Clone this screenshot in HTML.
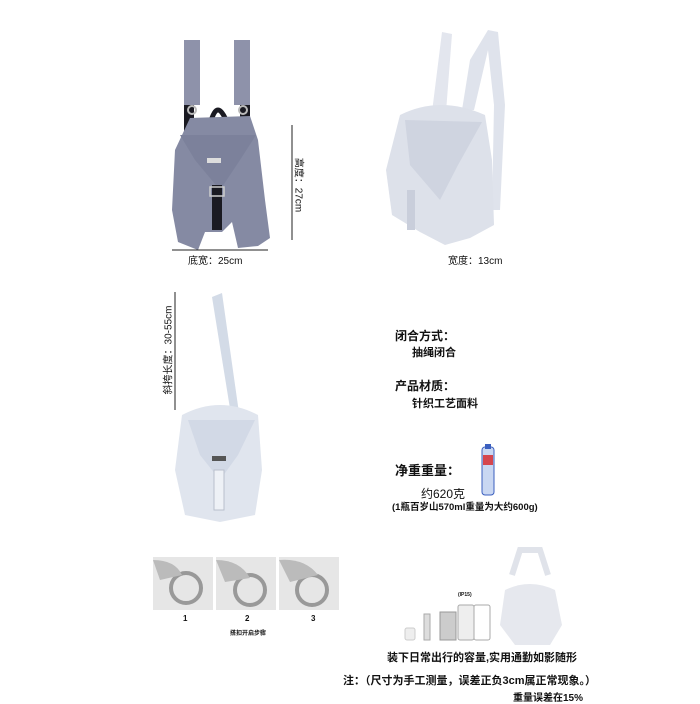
<!DOCTYPE html>
<html><head><meta charset="utf-8"><style>
body{margin:0;background:#fff;width:700px;height:700px;overflow:hidden;position:relative;font-family:"Liberation Sans","Noto Sans CJK SC",sans-serif;color:#111}
.t{position:absolute;white-space:nowrap;font-weight:bold}
</style></head><body>
<svg width="700" height="700" style="position:absolute;left:0;top:0">
<rect x="184" y="40" width="16" height="65" fill="#8e92aa"/>
<rect x="234" y="40" width="16" height="65" fill="#8e92aa"/>
<rect x="184" y="105" width="10" height="40" fill="#1a1a22"/>
<rect x="240" y="105" width="10" height="40" fill="#1a1a22"/>
<path d="M210 125 Q217 95 228 125" stroke="#1a1a22" stroke-width="5" fill="none"/>
<circle cx="192" cy="110" r="4" fill="none" stroke="#bbb" stroke-width="2"/>
<circle cx="243" cy="110" r="4" fill="none" stroke="#bbb" stroke-width="2"/>
<path d="M190 118 L250 116 L258 140 L265 200 L270 238 L258 246 L238 248 L232 222 L222 232 L205 232 L198 250 L178 242 L172 210 L175 150 Z" fill="#858aa3"/>
<path d="M180 135 L256 135 L240 160 L220 190 L195 160 Z" fill="#7c819b"/>
<rect x="212" y="185" width="10" height="45" fill="#1a1a22"/>
<rect x="210" y="187" width="14" height="9" fill="none" stroke="#ccc" stroke-width="1.5"/>
<rect x="207" y="158" width="14" height="5" fill="#ddd"/>
<line x1="292" y1="125" x2="292" y2="240" stroke="#222" stroke-width="1"/>
<line x1="172" y1="250" x2="268" y2="250" stroke="#222" stroke-width="1"/>
<path d="M432 112 L442 32 L452 34 L446 112 Z" fill="#e3e6ee"/>
<path d="M462 110 L470 60 L488 30 L498 32 L505 105 L500 210 L492 210 L494 105 L488 50 L474 110 Z" fill="#dfe3ec"/>
<path d="M400 115 Q440 95 485 115 L492 160 L494 225 L470 238 L445 245 L420 232 L392 215 L386 170 Z" fill="#dde1ea"/>
<path d="M405 120 L482 122 L458 165 L440 200 L410 165 Z" fill="#cfd4e0"/>
<rect x="407" y="190" width="8" height="40" fill="#c9cedb"/>
<path d="M212 297 L222 293 L240 420 L232 421 Z" fill="#d3dbe7"/>
<path d="M182 415 Q220 395 258 415 L262 470 L255 515 L220 522 L185 515 L175 470 Z" fill="#e0e5ee"/>
<path d="M188 420 L255 420 L238 455 L220 480 L200 455 Z" fill="#d2d9e6"/>
<rect x="214" y="470" width="10" height="40" fill="#eef1f6" stroke="#b9c0cc" stroke-width="1"/>
<rect x="212" y="456" width="14" height="5" fill="#555"/>
<line x1="175" y1="292" x2="175" y2="410" stroke="#222" stroke-width="1"/>
<g>
<rect x="153" y="557" width="60" height="53" fill="#e6e6e6"/>
<rect x="216" y="557" width="60" height="53" fill="#e6e6e6"/>
<rect x="279" y="557" width="60" height="53" fill="#e6e6e6"/>
<circle cx="186" cy="588" r="15" fill="none" stroke="#999" stroke-width="4"/>
<circle cx="250" cy="590" r="15" fill="none" stroke="#999" stroke-width="4"/>
<circle cx="312" cy="590" r="15" fill="none" stroke="#999" stroke-width="4"/>
<path d="M153 560 Q175 560 182 575 L160 580 Z" fill="#bbb"/>
<path d="M216 560 Q240 560 250 578 L225 582 Z" fill="#bbb"/>
<path d="M279 560 Q305 558 318 575 L290 582 Z" fill="#bbb"/>
</g>
<rect x="482" y="447" width="12" height="48" rx="3" fill="#c9d7f2" stroke="#3b5fbf" stroke-width="1"/>
<rect x="485" y="444" width="6" height="5" fill="#3b5fbf"/>
<rect x="483" y="455" width="10" height="10" fill="#d5464e"/>
<rect x="405" y="628" width="10" height="12" rx="2" fill="#eee" stroke="#ccc"/>
<rect x="424" y="614" width="6" height="26" fill="#ddd" stroke="#aaa"/>
<rect x="440" y="612" width="16" height="28" fill="#ccc" stroke="#999"/>
<rect x="458" y="605" width="16" height="35" rx="2" fill="#eee" stroke="#aaa"/>
<rect x="474" y="605" width="16" height="35" rx="2" fill="#fff" stroke="#aaa"/>
<path d="M505 590 Q530 578 555 590 L562 625 L550 645 L515 645 L500 625 Z" fill="#e6e8ee"/>
<path d="M512 575 L520 550 L540 550 L548 575" stroke="#e0e3ea" stroke-width="6" fill="none"/>
</svg>
<div class="t" style="left:300px;top:185px;font-size:10px;font-weight:normal;transform:translate(-50%,-50%) rotate(90deg);">高度：27cm</div>
<div class="t" style="left:188px;top:252px;font-size:10px;font-weight:normal">底宽：25cm</div>
<div class="t" style="left:448px;top:252px;font-size:10px;font-weight:normal">宽度：13cm</div>
<div class="t" style="left:167px;top:350px;font-size:10px;font-weight:normal;transform:translate(-50%,-50%) rotate(-90deg);">斜挎长度：30-55cm</div>
<div class="t" style="left:183px;top:614px;font-size:8px">1</div>
<div class="t" style="left:245px;top:614px;font-size:8px">2</div>
<div class="t" style="left:311px;top:614px;font-size:8px">3</div>
<div class="t" style="left:230px;top:628px;font-size:6px">搭扣开启步骤</div>
<div class="t" style="left:395px;top:327px;font-size:12px">闭合方式：</div>
<div class="t" style="left:412px;top:344px;font-size:11px">抽绳闭合</div>
<div class="t" style="left:395px;top:377px;font-size:12px">产品材质：</div>
<div class="t" style="left:412px;top:395px;font-size:11px">针织工艺面料</div>
<div class="t" style="left:395px;top:460px;font-size:13px">净重重量：</div>
<div class="t" style="left:421px;top:485px;font-size:12px;font-weight:normal">约620克</div>
<div class="t" style="left:392px;top:499px;font-size:9.5px">(1瓶百岁山570ml重量为大约600g)</div>
<div class="t" style="left:458px;top:592px;font-size:5px">(IP15)</div>
<div class="t" style="left:387px;top:649px;font-size:11px">装下日常出行的容量,实用通勤如影随形</div>
<div class="t" style="left:343px;top:672px;font-size:11px">注：（尺寸为手工测量，误差正负3cm属正常现象。）</div>
<div class="t" style="left:513px;top:689px;font-size:10px">重量误差在15%</div>
</body></html>
